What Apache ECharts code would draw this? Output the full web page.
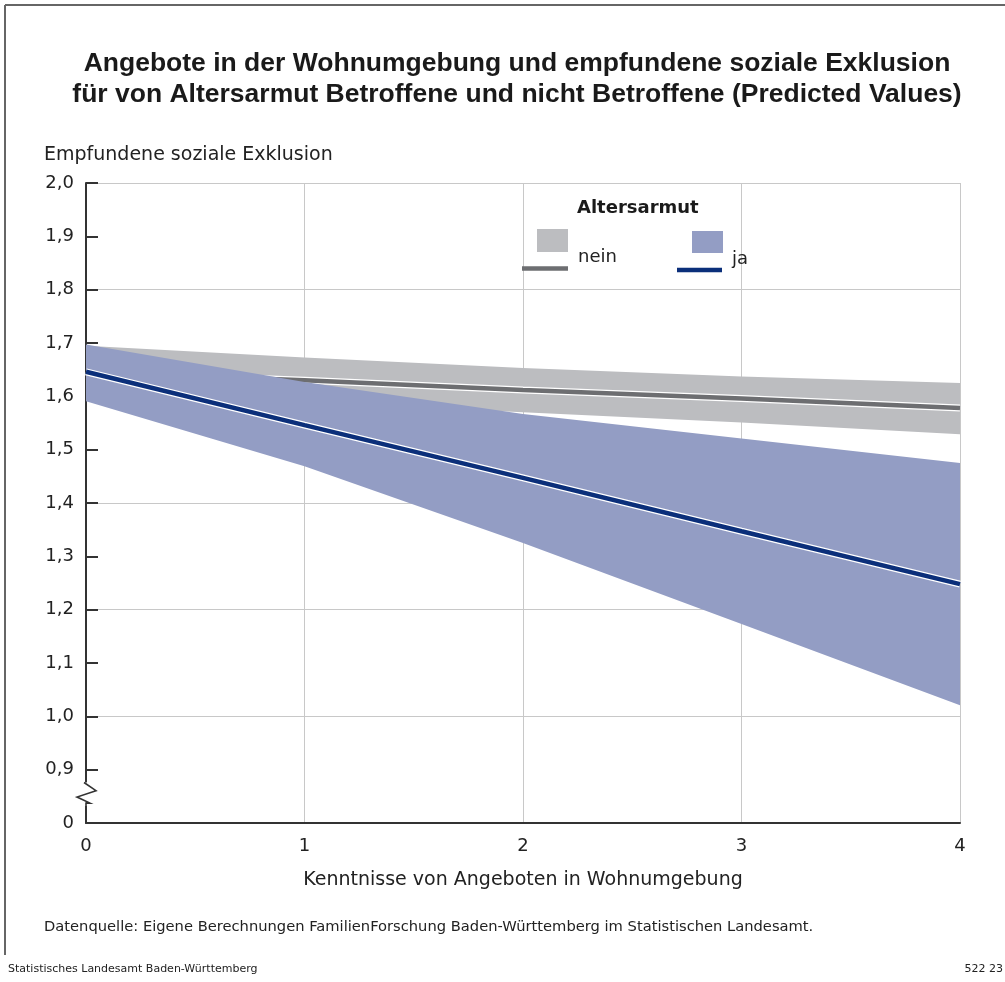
<!DOCTYPE html>
<html>
<head>
<meta charset="utf-8">
<script src="https://cdn.jsdelivr.net/npm/echarts@6/dist/echarts.min.js"></script>
<style>
html,body{margin:0;padding:0;background:#fff;}
#chart{width:1005px;height:982px;}
</style>
</head>
<body>
<div id="chart"></div>
<script>
// ---- data ----
const xCategories = ['0', '1', '2', '3', '4'];
const neinPred  = [1.645, 1.630, 1.612, 1.596, 1.578];
const neinLower = [1.595, 1.589, 1.570, 1.551, 1.529];
const neinUpper = [1.695, 1.673, 1.653, 1.637, 1.625];
const jaPred    = [1.646, 1.546, 1.447, 1.347, 1.248];
const jaLower   = [1.591, 1.469, 1.325, 1.173, 1.021];
const jaUpper   = [1.697, 1.627, 1.567, 1.521, 1.475];
const legendNames = ['nein', 'ja'];
const titleText = 'Angebote in der Wohnumgebung und empfundene soziale Exklusion\nfür von Altersarmut Betroffene und nicht Betroffene (Predicted Values)';

const FONT = '"Liberation Sans", Arial, sans-serif';
const FONT2 = '"DejaVu Sans", "Liberation Sans", sans-serif';
const TXT = '#222';
const C_NEIN_BAND = '#bcbdc0', C_NEIN_LINE = '#6d6e71';
const C_JA_BAND = '#939dc4', C_JA_LINE = '#0b2f7a';

const diffs = (hi, lo) => hi.map((v, i) => +(v - lo[i]).toFixed(4));

const chart = echarts.init(document.getElementById('chart'));
const option = {
  animation: false,
  backgroundColor: '#fff',
  textStyle: {fontFamily: FONT2},
  title: {
    text: titleText,
    left: 512, top: 43, textAlign: 'center',
    textStyle: {fontFamily: FONT, fontSize: 26.5, fontWeight: 'bold', color: '#1a1a1a', lineHeight: 31}
  },
  grid: {left: 86, right: 45, top: 183, bottom: 159, containLabel: false},
  xAxis: {
    type: 'category', data: xCategories, boundaryGap: false,
    name: 'Kenntnisse von Angeboten in Wohnumgebung',
    nameLocation: 'middle', nameGap: 48,
    nameTextStyle: {fontFamily: FONT2, fontSize: 19, color: TXT},
    axisLine: {show: true, onZero: false, lineStyle: {color: '#333', width: 2}},
    axisTick: {show: false},
    axisLabel: {fontFamily: FONT2, fontSize: 18, color: TXT, margin: 14},
    splitLine: {show: true, lineStyle: {color: '#c8c8c8', width: 1}}
  },
  yAxis: [{
    type: 'value', min: 0.8, max: 2.0, interval: 0.1,
    axisLine: {show: true, lineStyle: {color: '#333', width: 2}},
    axisTick: {show: true, inside: true, length: 12, lineStyle: {color: '#333', width: 2}},
    axisLabel: {fontFamily: FONT2, fontSize: 18, color: TXT, margin: 12,
      formatter: v => Math.abs(v - 0.8) < 1e-6 ? '0' : v.toFixed(1).replace('.', ',')},
    splitLine: {show: false}
  }, {
    type: 'value', min: 0.8, max: 2.0, interval: 0.2, position: 'left',
    axisLine: {show: false}, axisTick: {show: false}, axisLabel: {show: false},
    splitLine: {show: true, lineStyle: {color: '#c8c8c8', width: 1}}
  }],
  series: [
    {name: 'neinBase', type: 'line', stack: 'nein', data: neinLower, symbol: 'none',
      lineStyle: {opacity: 0}, silent: true, z: 2},
    {name: 'neinBand', type: 'line', stack: 'nein', data: diffs(neinUpper, neinLower), symbol: 'none',
      lineStyle: {opacity: 0}, areaStyle: {color: C_NEIN_BAND, opacity: 1}, silent: true, z: 2},
    {name: 'neinEdge', type: 'line', data: neinPred, symbol: 'none',
      lineStyle: {color: '#fff', width: 7}, silent: true, z: 3},
    {name: 'nein', type: 'line', data: neinPred, symbol: 'none',
      lineStyle: {color: C_NEIN_LINE, width: 4.5}, silent: true, z: 3},
    {name: 'jaBase', type: 'line', stack: 'ja', data: jaLower, symbol: 'none',
      lineStyle: {opacity: 0}, silent: true, z: 4},
    {name: 'jaBand', type: 'line', stack: 'ja', data: diffs(jaUpper, jaLower), symbol: 'none',
      lineStyle: {opacity: 0}, areaStyle: {color: C_JA_BAND, opacity: 1}, silent: true, z: 4},
    {name: 'jaEdge', type: 'line', data: jaPred, symbol: 'none',
      lineStyle: {color: '#fff', width: 7}, silent: true, z: 5},
    {name: 'ja', type: 'line', data: jaPred, symbol: 'none',
      lineStyle: {color: C_JA_LINE, width: 4.5}, silent: true, z: 5}
  ]
};
chart.setOption(option);

// ---- decorations: frame, texts, legend, axis break ----
const toPx = v => chart.convertToPixel({xAxisIndex: 0, yAxisIndex: 0}, [0, v]);
const brTop = toPx(0.876), brBot = toPx(0.832);
const ax = brTop[0];
const by1 = brTop[1], by2 = brBot[1];
const bd = (by2 - by1);
const gfx = [
  {type: 'line', shape: {x1: 5, y1: 5, x2: 1005, y2: 5}, style: {stroke: '#666', lineWidth: 2}},
  {type: 'line', shape: {x1: 5, y1: 5, x2: 5, y2: 955}, style: {stroke: '#666', lineWidth: 2}},
  {type: 'text', left: 44, top: 146, style: {text: 'Empfundene soziale Exklusion', font: '19px ' + FONT2, fill: TXT}},
  {type: 'text', left: 44, top: 920, style: {text: 'Datenquelle: Eigene Berechnungen FamilienForschung Baden-Württemberg im Statistischen Landesamt.', font: '14.7px ' + FONT2, fill: TXT}},
  {type: 'text', left: 8, top: 964, style: {text: 'Statistisches Landesamt Baden-Württemberg', font: '11px ' + FONT2, fill: TXT}},
  {type: 'text', right: 2, top: 964, style: {text: '522 23', font: '11px ' + FONT2, fill: TXT}},
  // legend
  {type: 'text', left: 577, top: 199, style: {text: 'Altersarmut', font: 'bold 18px ' + FONT2, fill: '#1a1a1a'}},
  {type: 'rect', shape: {x: 537, y: 229, width: 31, height: 23}, style: {fill: C_NEIN_BAND}},
  {type: 'line', shape: {x1: 522, y1: 268.5, x2: 568, y2: 268.5}, style: {stroke: C_NEIN_LINE, lineWidth: 4.5}},
  {type: 'text', left: 578, top: 248, style: {text: legendNames[0], font: '18px ' + FONT2, fill: TXT}},
  {type: 'rect', shape: {x: 692, y: 231, width: 31, height: 22}, style: {fill: C_JA_BAND}},
  {type: 'line', shape: {x1: 677, y1: 270, x2: 722, y2: 270}, style: {stroke: C_JA_LINE, lineWidth: 4.5}},
  {type: 'text', left: 732, top: 250, style: {text: legendNames[1], font: '18px ' + FONT2, fill: TXT}},
  // axis break
  {type: 'rect', shape: {x: ax - 3, y: by1, width: 6, height: bd}, style: {fill: '#fff'}, z: 100},
  {type: 'polyline', shape: {points: [[ax - 2, by1], [ax + 10, by1 + bd * 0.35], [ax - 9, by1 + bd * 0.62], [ax + 4, by1 + bd * 0.88], [ax, by1 + bd * 0.88], [ax, by2]]},
    style: {stroke: '#333', lineWidth: 1.6, fill: null}, z: 101}
];
chart.setOption({graphic: gfx});
</script>
</body>
</html>
